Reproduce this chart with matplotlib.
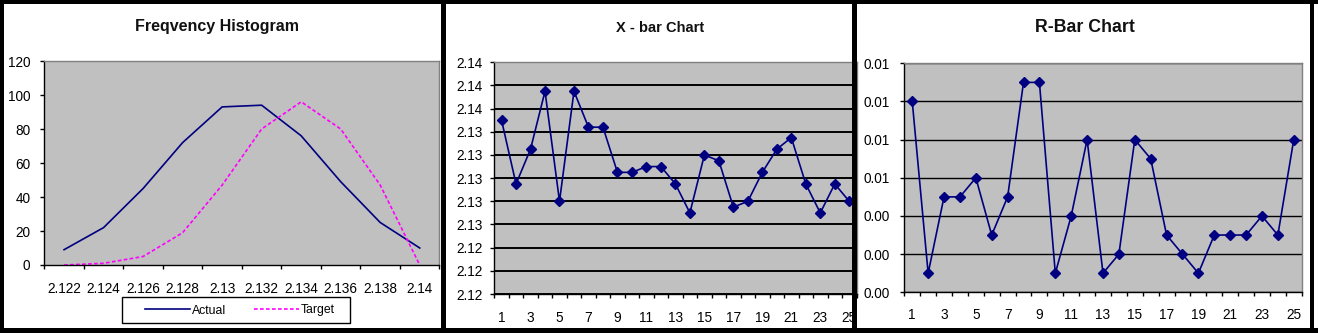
import matplotlib
matplotlib.use("Agg")
import matplotlib.pyplot as plt
from matplotlib.patches import Rectangle
from matplotlib.ticker import FixedLocator, NullFormatter, FuncFormatter
import numpy as np

plt.rcParams['font.family'] = ['Liberation Sans', 'DejaVu Sans']

# ---------------- data ----------------
hist_bins = ["2.122", "2.124", "2.126", "2.128", "2.13", "2.132",
             "2.134", "2.136", "2.138", "2.14"]
actual = [9, 22, 45, 72, 93, 94, 76, 49, 25, 10]
target = [0, 1, 5, 19, 47, 80, 96, 80, 47, 0]

samples = list(range(1, 26))
xbar = [2.1350, 2.1295, 2.1325, 2.1375, 2.1280, 2.1375, 2.1344, 2.1344, 2.1305, 2.1305,
        2.1310, 2.1310, 2.1295, 2.1270, 2.1320, 2.1315, 2.1275, 2.1280, 2.1305, 2.1325,
        2.1335, 2.1295, 2.1270, 2.1295, 2.1280]
rbar = [0.010, 0.001, 0.005, 0.005, 0.006, 0.003, 0.005, 0.011, 0.011, 0.001,
        0.004, 0.008, 0.001, 0.002, 0.008, 0.007, 0.003, 0.002, 0.001, 0.003,
        0.003, 0.003, 0.004, 0.003, 0.008]

hist_yticks = [0, 20, 40, 60, 80, 100, 120]
xbar_yticks = [2.120, 2.122, 2.124, 2.126, 2.128, 2.130, 2.132, 2.134, 2.136, 2.138, 2.140]
rbar_yticks = [0.000, 0.002, 0.004, 0.006, 0.008, 0.010, 0.012]

# ---------------- layout ----------------
W, H = 1318, 333
fig = plt.figure(figsize=(W / 100, H / 100), dpi=100, facecolor='white')

NAVY = '#000080'
PLOT_BG = '#C0C0C0'
TICK_FS = 9.8


def px_axes(l, r, t, b):
    return fig.add_axes([l / W, 1 - b / H, (r - l) / W, (b - t) / H])


def style_axes(ax):
    ax.set_facecolor(PLOT_BG)
    for s in ('left', 'bottom'):
        ax.spines[s].set_color('black')
        ax.spines[s].set_linewidth(1.0)
    for s in ('top', 'right'):
        ax.spines[s].set_color('#808080')
        ax.spines[s].set_linewidth(1.0)
    ax.tick_params(axis='y', which='major', length=3.2, width=1, direction='out',
                   labelsize=TICK_FS, colors='black')
    ax.tick_params(axis='x', which='major', length=3.2, width=1, direction='out')
    ax.tick_params(axis='x', which='minor', length=0, labelsize=TICK_FS)


def fig_rect(x0, y0, x1, y1, face='black', edge='none', lw=0, z=50):
    fig.add_artist(Rectangle((x0 / W, 1 - y1 / H), (x1 - x0) / W, (y1 - y0) / H,
                             transform=fig.transFigure, facecolor=face,
                             edgecolor=edge, linewidth=lw, zorder=z))


# ---- Panel 1: frequency histogram ----
ax1 = px_axes(44.3, 439.5, 61, 265)
style_axes(ax1)
xh = np.arange(len(hist_bins))
l_act, = ax1.plot(xh, actual, color=NAVY, lw=1.2, label='Actual')
l_tar, = ax1.plot(xh, target, color='#FF00FF', lw=1.2, ls=(0, (2.2, 1.4)), label='Target')
ax1.set_xlim(-0.5, len(hist_bins) - 0.5)
ax1.set_ylim(0, 120)
ax1.yaxis.set_major_locator(FixedLocator(hist_yticks))
ax1.tick_params(axis='y', pad=6.8)
ax1.xaxis.set_major_locator(FixedLocator(np.arange(-0.5, len(hist_bins), 1.0)))
ax1.xaxis.set_major_formatter(NullFormatter())
ax1.xaxis.set_minor_locator(FixedLocator(xh))
ax1.set_xticklabels(hist_bins, minor=True)
ax1.tick_params(axis='x', which='minor', pad=12)
fig.text(217 / W, 1 - 27 / H, 'Freqvency Histogram', ha='center', va='center',
         fontsize=11.5, fontweight='bold', color='#111111')

# legend box drawn separately, legend content centred inside it
fig_rect(122, 297, 350, 323, face='white', edge='black', lw=1.0, z=5)
leg = fig.legend(handles=[l_act, l_tar], labels=['Actual', 'Target'], loc='center',
                 bbox_to_anchor=(240 / W, 1 - 310.5 / H), ncol=2, frameon=False,
                 fontsize=8.8, handlelength=3.7, handletextpad=0.15,
                 columnspacing=2.3, borderpad=0.2)
leg.set_zorder(6)

# ---- Panel 2: X-bar chart ----
ax2 = px_axes(494.3, 856.5, 62.3, 294)
style_axes(ax2)
ax2.set_axisbelow(True)
ax2.plot(samples, xbar, color=NAVY, lw=1.2, marker='D', ms=4.6,
         mfc=NAVY, mec=NAVY, clip_on=False, zorder=3)
ax2.set_xlim(0.5, 25.5)
ax2.set_ylim(2.120, 2.140)
ax2.yaxis.set_major_locator(FixedLocator(xbar_yticks))
ax2.yaxis.set_major_formatter(FuncFormatter(lambda v, p: f"{v:.2f}"))
ax2.tick_params(axis='y', pad=5.2)
ax2.grid(axis='y', color='black', lw=1.4)
ax2.xaxis.set_major_locator(FixedLocator(np.arange(0.5, 26, 1.0)))
ax2.xaxis.set_major_formatter(NullFormatter())
ax2.xaxis.set_minor_locator(FixedLocator(samples[::2]))
ax2.set_xticklabels([str(s) for s in samples[::2]], minor=True)
ax2.tick_params(axis='x', which='minor', pad=12)
fig.text(660 / W, 1 - 28 / H, 'X - bar Chart', ha='center', va='center',
         fontsize=10.5, fontweight='bold', color='#111111')

# ---- Panel 3: R-bar chart ----
ax3 = px_axes(904.3, 1301.7, 63.3, 292.3)
style_axes(ax3)
ax3.set_axisbelow(True)
ax3.plot(samples, rbar, color=NAVY, lw=1.2, marker='D', ms=4.6,
         mfc=NAVY, mec=NAVY, zorder=3)
ax3.set_xlim(0.5, 25.5)
ax3.set_ylim(0.0, 0.012)
ax3.yaxis.set_major_locator(FixedLocator(rbar_yticks))
ax3.yaxis.set_major_formatter(FuncFormatter(lambda v, p: f"{v:.2f}"))
ax3.tick_params(axis='y', pad=7.6)
ax3.grid(axis='y', color='black', lw=1.0)
ax3.xaxis.set_major_locator(FixedLocator(np.arange(0.5, 26, 1.0)))
ax3.xaxis.set_major_formatter(NullFormatter())
ax3.xaxis.set_minor_locator(FixedLocator(samples[::2]))
ax3.set_xticklabels([str(s) for s in samples[::2]], minor=True)
ax3.tick_params(axis='x', which='minor', pad=11.5)
fig.text(1085 / W, 1 - 28 / H, 'R-Bar Chart', ha='center', va='center',
         fontsize=12.8, fontweight='bold', color='#111111')

# ---- black frames / dividers ----
fig_rect(0, 0, W, 4)              # top
fig_rect(0, 328, W, H)            # bottom
fig_rect(0, 0, 4, H)              # left
fig_rect(440.5, 0, 446, H)        # divider 1
fig_rect(852, 0, 857, H)          # divider 2
fig_rect(1309.5, 0, 1313.5, H)    # right

fig.savefig('out.png', dpi=100, facecolor=fig.get_facecolor())
